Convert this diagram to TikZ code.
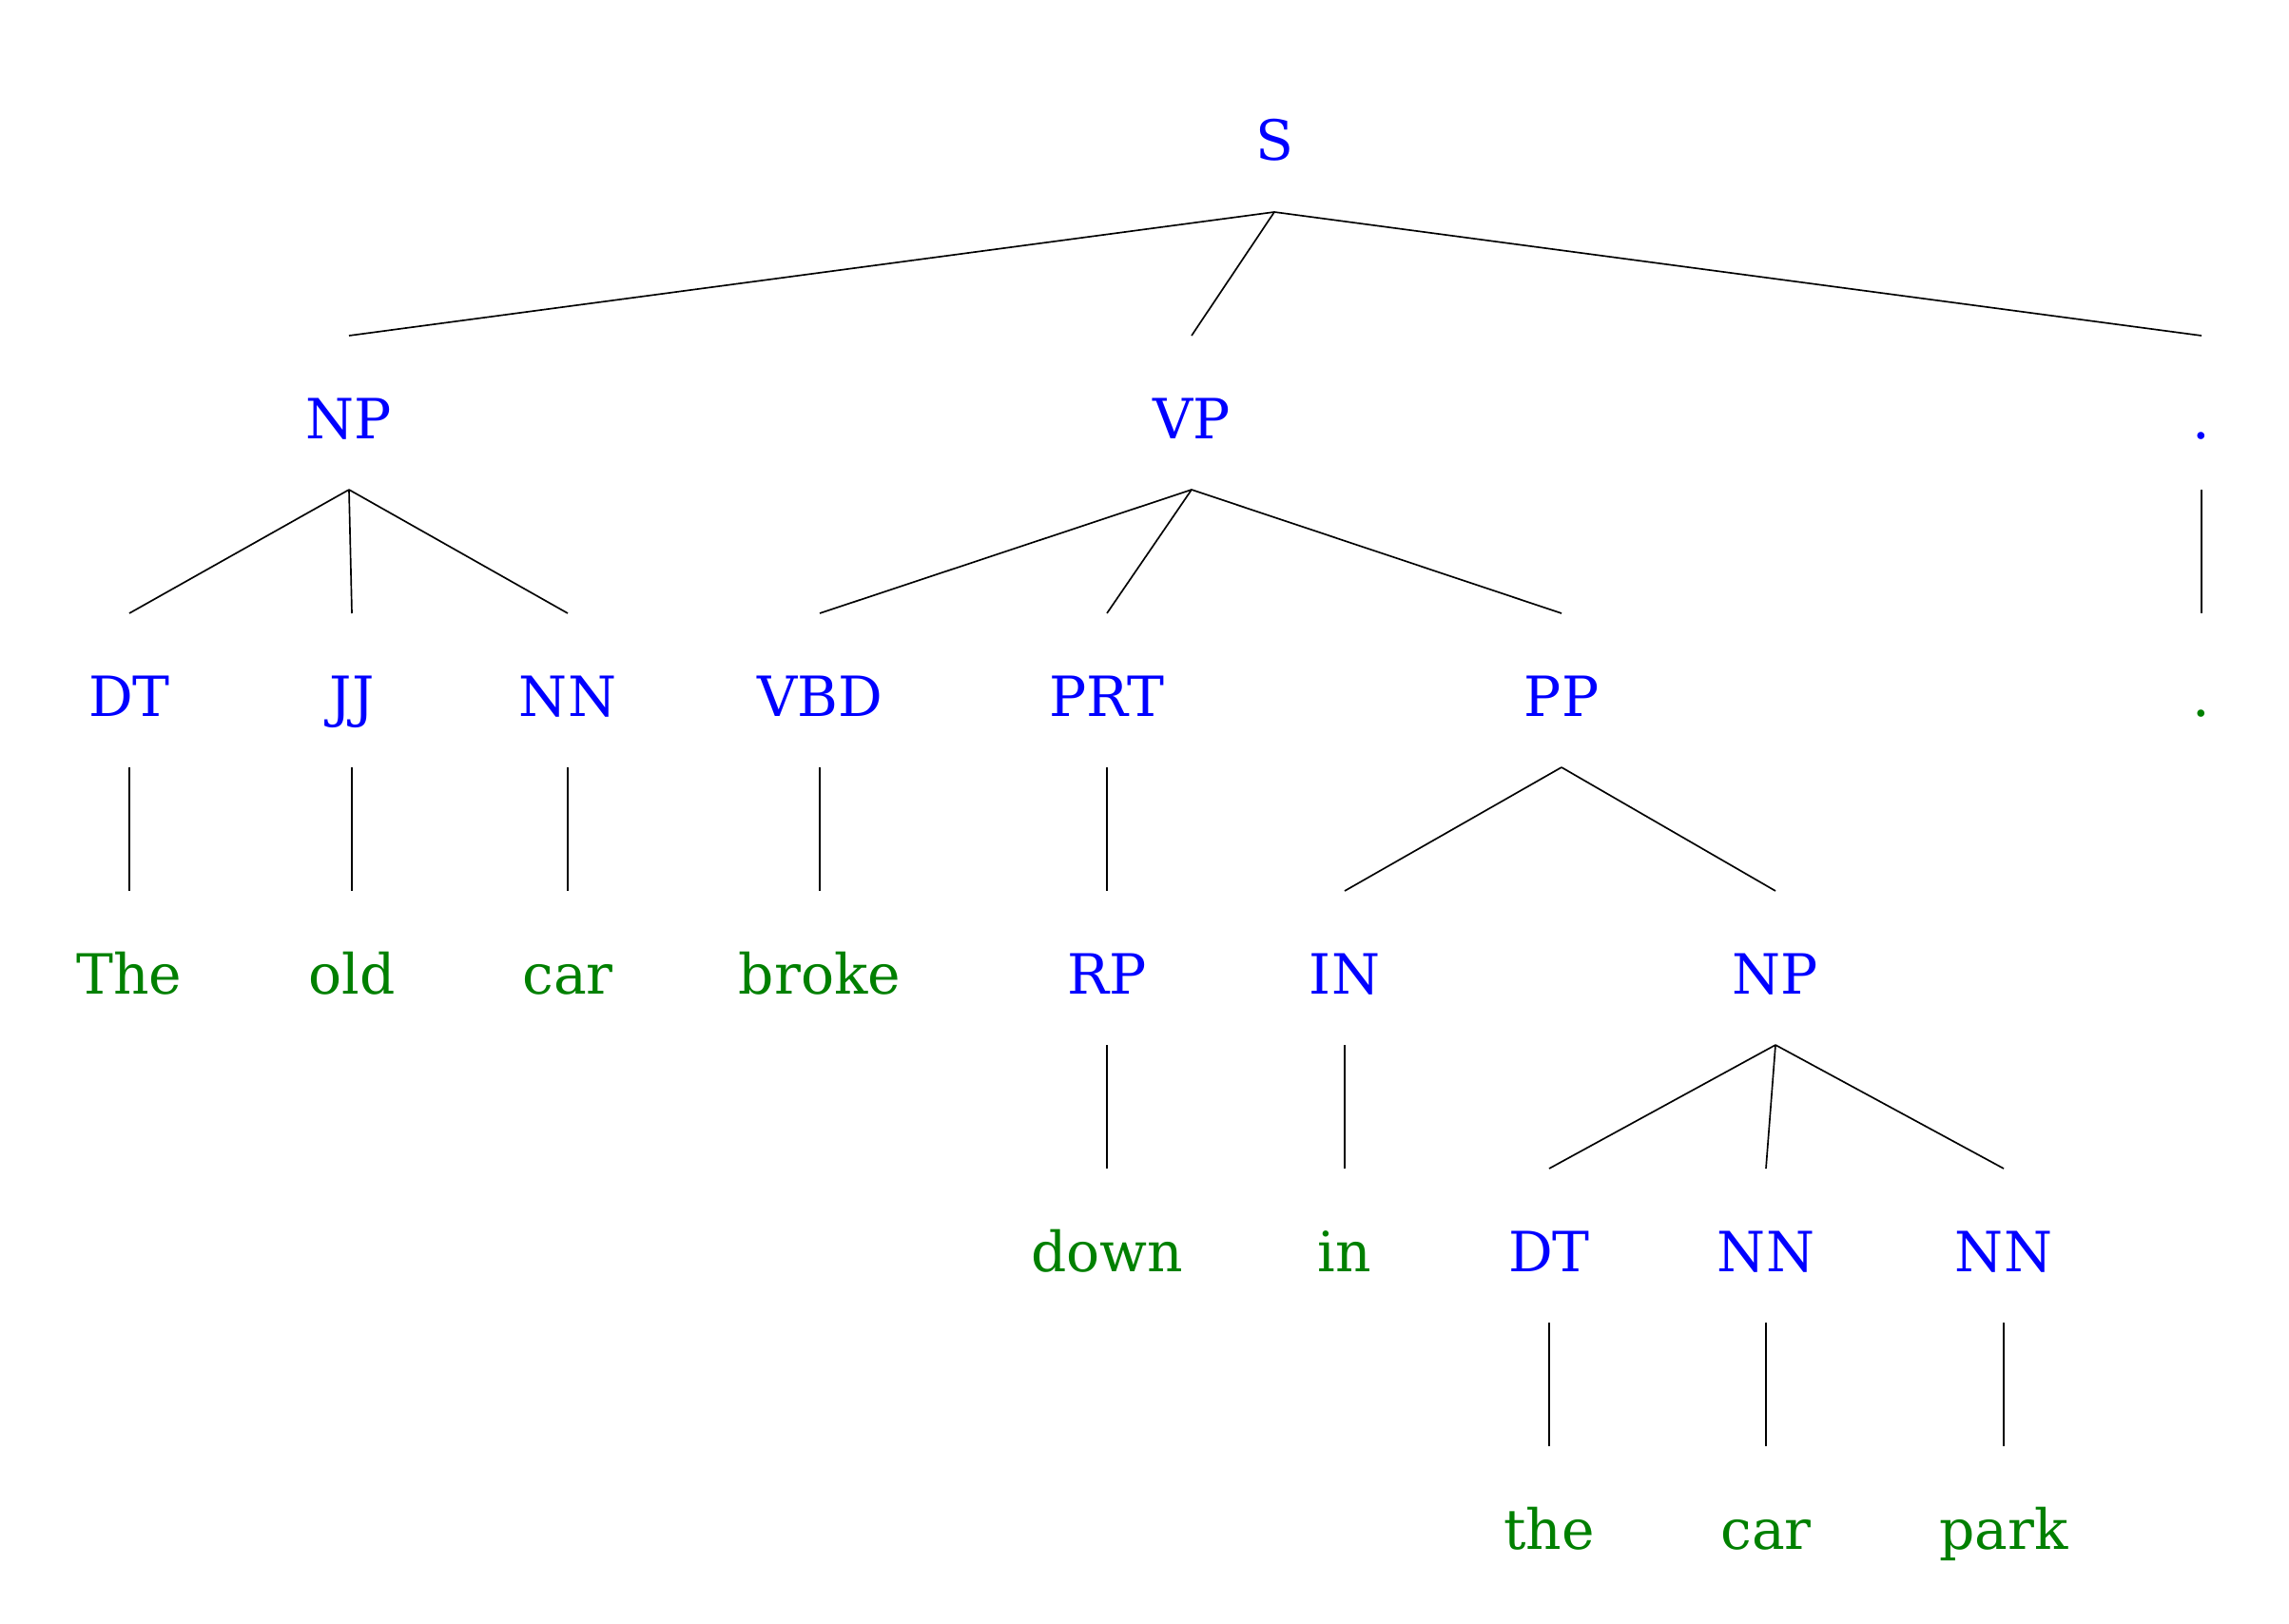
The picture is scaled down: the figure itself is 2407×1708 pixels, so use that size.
\documentclass[tikz,border=0pt]{standalone}
\usepackage{fontspec}
\setmainfont{DejaVu Serif}
\definecolor{catblue}{RGB}{0,0,255}
\definecolor{wordgreen}{RGB}{0,128,0}
\tikzset{
  cat/.style={anchor=base, inner sep=0pt, text=catblue, font=\fontsize{17.5}{20}\selectfont},
  word/.style={anchor=base, inner sep=0pt, text=wordgreen, font=\fontsize{17.5}{20}\selectfont},
  edge/.style={draw=black, line width=0.5pt}
}
\newcommand{\tedge}[2]{\draw[edge] ([yshift=-16.2pt]#1.base) -- ([yshift=32.4pt]#2.base);}
\begin{document}
\begin{tikzpicture}[x=0.3pt,y=-0.3pt]
\useasboundingbox (0,0) rectangle (2407,1708);
% row 0
\node[cat] (S) at (1340,169) {S};
% row 1
\node[cat] (NPa) at (367,461) {NP};
\node[cat] (VP) at (1253,461) {VP};
\node[cat] (PUa) at (2315,461) {.};
% row 2
\node[cat] (DTa) at (136,753) {DT};
\node[cat] (JJ) at (370,753) {JJ};
\node[cat] (NNa) at (597,753) {NN};
\node[cat] (VBD) at (862,753) {VBD};
\node[cat] (PRT) at (1164,753) {PRT};
\node[cat] (PP) at (1642,753) {PP};
\node[word] (PUb) at (2315,753) {.};
% row 3
\node[word] (The) at (136,1045) {The};
\node[word] (old) at (370,1045) {old};
\node[word] (cara) at (597,1045) {car};
\node[word] (broke) at (862,1045) {broke};
\node[cat] (RP) at (1164,1045) {RP};
\node[cat] (IN) at (1414,1045) {IN};
\node[cat] (NPb) at (1867,1045) {NP};
% row 4
\node[word] (down) at (1164,1337) {down};
\node[word] (in) at (1414,1337) {in};
\node[cat] (DTb) at (1629,1337) {DT};
\node[cat] (NNb) at (1857,1337) {NN};
\node[cat] (NNc) at (2107,1337) {NN};
% row 5
\node[word] (the) at (1629,1629) {the};
\node[word] (carb) at (1857,1629) {car};
\node[word] (park) at (2107,1629) {park};
% edges
\tedge{S}{NPa}
\tedge{S}{VP}
\tedge{S}{PUa}
\tedge{NPa}{DTa}
\tedge{NPa}{JJ}
\tedge{NPa}{NNa}
\tedge{VP}{VBD}
\tedge{VP}{PRT}
\tedge{VP}{PP}
\tedge{PUa}{PUb}
\tedge{DTa}{The}
\tedge{JJ}{old}
\tedge{NNa}{cara}
\tedge{VBD}{broke}
\tedge{PRT}{RP}
\tedge{PP}{IN}
\tedge{PP}{NPb}
\tedge{RP}{down}
\tedge{IN}{in}
\tedge{NPb}{DTb}
\tedge{NPb}{NNb}
\tedge{NPb}{NNc}
\tedge{DTb}{the}
\tedge{NNb}{carb}
\tedge{NNc}{park}
\end{tikzpicture}
\end{document}
